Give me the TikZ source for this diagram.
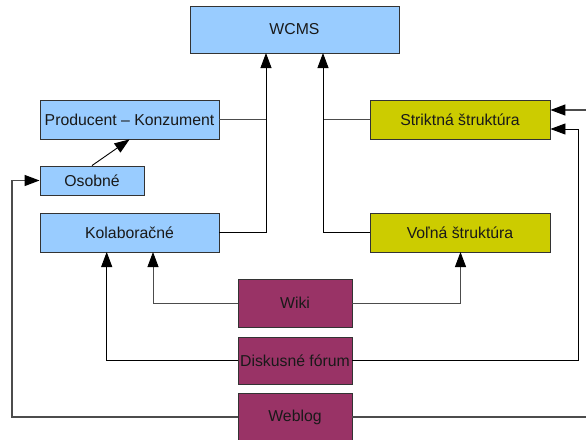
\documentclass[tikz,border=0pt]{standalone}
\usepackage{fontspec}
\setmainfont{Liberation Sans}
\usetikzlibrary{arrows.meta}
\definecolor{boxblue}{HTML}{99CCFF}
\definecolor{boxolive}{HTML}{CCCC00}
\definecolor{boxplum}{HTML}{993366}
\definecolor{edgegray}{HTML}{333333}
\tikzset{
  box/.style={draw=edgegray, line width=0.9pt, rectangle, inner sep=0pt,
    font=\fontsize{15.8}{18}\selectfont, text=black!90},
  bluebox/.style={box, fill=boxblue},
  olivebox/.style={box, fill=boxolive},
  plumbox/.style={box, fill=boxplum},
  link/.style={draw=black!70, line width=0.9pt},
  blink/.style={draw=black, line width=0.9pt},
  arr/.style={-{Triangle[length=15pt,width=11pt,color=black]}},
}
\begin{document}
\begin{tikzpicture}[x=1pt, y=-1pt]
\useasboundingbox (0,0) rectangle (586,439);
\clip (0,0) rectangle (586,439);
\fill[white] (0,0) rectangle (586,439);

% boxes
\node[bluebox, minimum width=209pt, minimum height=47pt] (wcms) at (294.5,29.5) {WCMS};
\node[bluebox, minimum width=179pt, minimum height=39pt] (prod) at (129.5,119.5) {Producent -- Konzument};
\node[bluebox, minimum width=104pt, minimum height=29pt] (osob) at (92,180.5) {Osobné};
\node[bluebox, minimum width=179pt, minimum height=39pt] (kolab) at (129.5,232.5) {Kolaboračné};
\node[olivebox, minimum width=180pt, minimum height=39pt] (strikt) at (460,119.5) {Striktná štruktúra};
\node[olivebox, minimum width=180pt, minimum height=39pt] (volna) at (460,232.5) {Voľná štruktúra};
\node[plumbox, minimum width=114pt, minimum height=48pt] (wiki) at (295,303) {Wiki};
\node[plumbox, minimum width=114pt, minimum height=47pt] (disk) at (295,360.5) {Diskusné fórum};
\node[plumbox, minimum width=114pt, minimum height=48pt] (weblog) at (295,417) {Weblog};

% junction points
\coordinate (wl) at (266,53);
\coordinate (wr) at (323,53);
\coordinate (kw) at (153,252);
\coordinate (kd) at (106.7,252);
\coordinate (vw) at (460.5,252);
\coordinate (dr) at (578,129);
\coordinate (bl) at (12,180.5);
\coordinate (br) at (600,110);

% into WCMS
\draw[link] (prod.east) -- (prod.east -| wl);
\draw[blink, arr] (kolab.east) -| (wl);
\draw[link] (strikt.west) -- (strikt.west -| wr);
\draw[blink, arr] (volna.west) -| (wr);

% Osobné -> Producent
\draw[blink, arr] (osob.north) -- (prod.south);

% Wiki
\draw[link, arr] (wiki.west) -| (kw);
\draw[link, arr] (wiki.east) -| (vw);

% Diskusné fórum
\draw[blink, arr] (disk.west) -| (kd);
\draw[blink, arr] (disk.east) -| (dr) -- (strikt.east |- dr);

% Weblog
\draw[link, line width=1.3pt, arr] (weblog.west) -| (bl) -- (osob.west);
\draw[link, line width=1.3pt, arr] (weblog.east) -| (br) -- (strikt.east |- br);
\end{tikzpicture}
\end{document}
